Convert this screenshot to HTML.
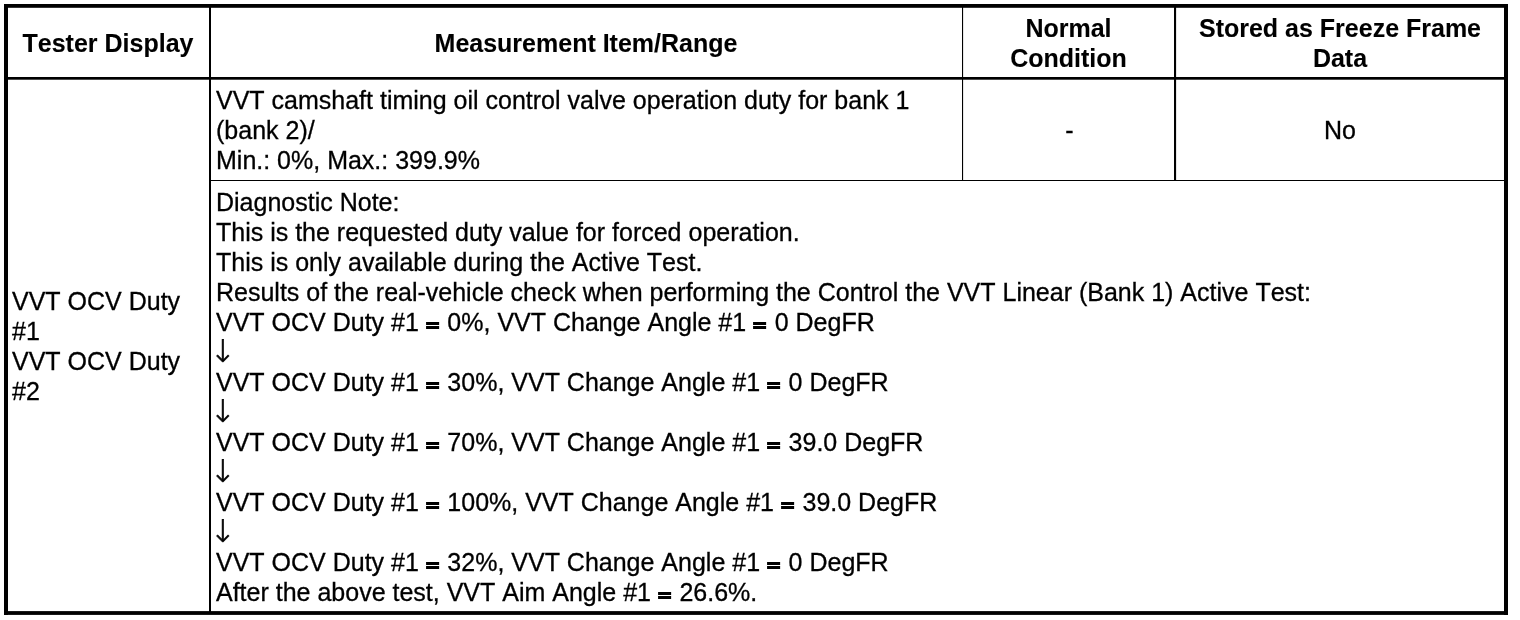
<!DOCTYPE html>
<html>
<head>
<meta charset="utf-8">
<title>Data List</title>
<style>
html,body{margin:0;padding:0;background:#fff;}
body{width:1520px;height:620px;position:relative;overflow:hidden;font-family:"Liberation Sans",Arial,Helvetica,sans-serif;font-size:25px;line-height:30px;color:#000;font-kerning:none;font-variant-ligatures:none;-webkit-text-stroke:0.3px #000;}
#lines{position:absolute;left:0;top:0;}
.t{position:absolute;white-space:nowrap;margin:0;}
.b{font-weight:bold;-webkit-text-stroke:0.1px #000;}
.c{text-align:center;}
.eq{display:inline-block;-webkit-text-stroke:2.9px #000;transform:translate(-0.6px,3.2px) scale(0.87,0.64);}
.ar{display:inline-block;position:relative;left:-6.1px;top:1px;font-family:"DejaVu Sans Light","DejaVu Sans",sans-serif;font-weight:200;font-size:31px;line-height:0;-webkit-text-stroke:0.6px #000;}
</style>
</head>
<body>
<svg id="lines" width="1520" height="620" viewBox="0 0 1520 620">
  <rect x="4" y="4" width="1504" height="3.8" fill="#000"/>
  <rect x="4" y="611.1" width="1504" height="3.8" fill="#000"/>
  <rect x="4" y="4" width="4" height="610.9" fill="#000"/>
  <rect x="1504" y="4" width="4" height="610.9" fill="#000"/>
  <rect x="4" y="77" width="1504" height="2.7" fill="#000"/>
  <rect x="209" y="6" width="2" height="607" fill="#000"/>
  <rect x="962" y="6" width="1.1" height="175" fill="#000"/>
  <rect x="1174" y="6" width="2.1" height="175" fill="#000"/>
  <rect x="210" y="180" width="1296" height="1" fill="#000"/>
</svg>

<div class="t b c" style="left:7.5px;top:28px;width:201px;">Tester Display</div>
<div class="t b c" style="left:210.5px;top:28px;width:751px;">Measurement Item/Range</div>
<div class="t b c" style="left:963px;top:13px;width:211px;">Normal<br>Condition</div>
<div class="t b c" style="left:1176px;top:13px;width:328px;">Stored as Freeze Frame<br>Data</div>

<div class="t" style="left:12px;top:286px;">VVT OCV Duty<br>#1<br>VVT OCV Duty<br>#2</div>

<div class="t" style="left:216px;top:85px;">VVT camshaft timing oil control valve operation duty for bank 1<br>(bank 2)/<br>Min.: 0%, Max.: 399.9%</div>
<div class="t c" style="left:964px;top:115px;width:211px;">-</div>
<div class="t c" style="left:1176px;top:115px;width:328px;">No</div>

<div class="t" style="left:216px;top:187px;">Diagnostic Note:<br>This is the requested duty value for forced operation.<br>This is only available during the Active Test.<br>Results of the real-vehicle check when performing the Control the VVT Linear (Bank 1) Active Test:<br>VVT OCV Duty #1 <span class="eq">=</span> 0%, VVT Change Angle #1 <span class="eq">=</span> 0 DegFR<br><span class="ar">↓</span><br>VVT OCV Duty #1 <span class="eq">=</span> 30%, VVT Change Angle #1 <span class="eq">=</span> 0 DegFR<br><span class="ar">↓</span><br>VVT OCV Duty #1 <span class="eq">=</span> 70%, VVT Change Angle #1 <span class="eq">=</span> 39.0 DegFR<br><span class="ar">↓</span><br>VVT OCV Duty #1 <span class="eq">=</span> 100%, VVT Change Angle #1 <span class="eq">=</span> 39.0 DegFR<br><span class="ar">↓</span><br>VVT OCV Duty #1 <span class="eq">=</span> 32%, VVT Change Angle #1 <span class="eq">=</span> 0 DegFR<br>After the above test, VVT Aim Angle #1 <span class="eq">=</span> 26.6%.</div>
</body>
</html>
